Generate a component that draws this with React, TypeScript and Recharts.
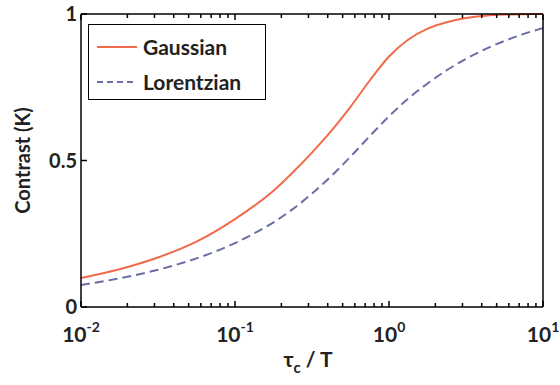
import { LineChart, Line, XAxis, YAxis, Legend } from 'recharts';

// tau_c / T sample points (log spaced) and contrast
const tauOverT = [0.01, 0.0178, 0.0316, 0.0562, 0.1, 0.133, 0.178, 0.237, 0.316, 0.422, 0.562, 0.75, 1, 1.33, 1.78, 2.37, 3.16, 4.22, 5.62, 7.5, 10];
const gaussian = [0.099, 0.129, 0.169, 0.223, 0.3, 0.345, 0.397, 0.459, 0.527, 0.601, 0.683, 0.773, 0.855, 0.912, 0.95, 0.972, 0.986, 0.994, 0.998, 0.9995, 1.0];
const lorentzian = [0.075, 0.098, 0.127, 0.166, 0.218, 0.251, 0.289, 0.334, 0.387, 0.447, 0.513, 0.583, 0.651, 0.711, 0.763, 0.808, 0.847, 0.88, 0.908, 0.932, 0.952];

const seriesNames = ['Gaussian', 'Lorentzian'];
const seriesColors = ['#f26a4c', '#6a6ea6'];

const majorTicks = [0.01, 0.1, 1, 10];
const minorTicks = [
  0.02, 0.03, 0.04, 0.05, 0.06, 0.07, 0.08, 0.09,
  0.2, 0.3, 0.4, 0.5, 0.6, 0.7, 0.8, 0.9,
  2, 3, 4, 5, 6, 7, 8, 9,
];
const xTicks = [...majorTicks, ...minorTicks].sort((a, b) => a - b);
const yTicks = [0, 0.5, 1];

const data = tauOverT.map((tau, i) => ({
  tau,
  gaussian: gaussian[i],
  lorentzian: lorentzian[i],
}));

const FONT = "Lato, 'Open Sans', sans-serif";
const TEXT = '#222';

const isMajor = (v: number) => majorTicks.some((m) => Math.abs(m - v) < 1e-9);

function BottomTick({ x, y, payload }: any) {
  const v = payload.value;
  const major = isMajor(v);
  const exp = Math.round(Math.log10(v));
  return (
    <g>
      <line x1={x} x2={x} y1={y} y2={y - (major ? 6 : 4)} stroke="#000" strokeWidth={1.5} />
      {major && (
        <text x={x} y={y + 35} textAnchor="middle" fontFamily={FONT} fontWeight={700} fontSize={21} fill={TEXT}>
          10<tspan dy={-10} fontSize={14}>{exp}</tspan>
        </text>
      )}
    </g>
  );
}

function TopTick({ x, y, payload }: any) {
  const major = isMajor(payload.value);
  return <line x1={x} x2={x} y1={y} y2={y + (major ? 6 : 4)} stroke="#000" strokeWidth={1.5} />;
}

function LeftTick({ x, y, payload }: any) {
  return (
    <g>
      <line x1={x} x2={x + 6} y1={y} y2={y} stroke="#000" strokeWidth={1.5} />
      <text x={x - 4} y={y} dy={7} textAnchor="end" fontFamily={FONT} fontWeight={700} fontSize={20} fill={TEXT}>
        {payload.value}
      </text>
    </g>
  );
}

function RightTick({ x, y }: any) {
  return <line x1={x} x2={x - 6} y1={y} y2={y} stroke="#000" strokeWidth={1.5} />;
}

function LegendBox() {
  const dashes = [undefined, '6 4'];
  return (
    <div
      style={{
        border: '1.5px solid #000',
        background: '#fff',
        width: 178,
        height: 76,
        boxSizing: 'border-box',
        padding: '4px 0 0 7px',
        fontFamily: FONT,
        fontWeight: 700,
        fontSize: 21,
        color: TEXT,
      }}
    >
      {seriesNames.map((name, i) => (
        <div key={name} style={{ display: 'flex', alignItems: 'center', height: 35 }}>
          <svg width={42} height={10} style={{ marginRight: 5 }}>
            <line x1={1} x2={41} y1={5} y2={5} stroke={seriesColors[i]} strokeWidth={1.8} strokeDasharray={dashes[i]} />
          </svg>
          <span>{name}</span>
        </div>
      ))}
    </div>
  );
}

export default function App() {
  return (
    <div style={{ position: 'absolute', left: 0, top: 0, background: '#fff' }}>
      <LineChart width={560} height={385} data={data} margin={{ top: 0, right: 0, bottom: 0, left: 0 }}>
        <XAxis
          dataKey="tau"
          type="number"
          scale="log"
          domain={[0.01, 10]}
          allowDataOverflow
          ticks={xTicks}
          interval={0}
          tickSize={0}
          tickMargin={0}
          height={78}
          tickLine={false}
          axisLine={{ stroke: '#000', strokeWidth: 1.5 }}
          tick={(p: any) => <BottomTick {...p} />}
          label={{
            content: ({ viewBox }: any) => (
              <text
                x={viewBox.x + viewBox.width / 2 - 4}
                y={viewBox.y + 60}
                textAnchor="middle"
                fontFamily={FONT}
                fontWeight={700}
                fontSize={21}
                fill={TEXT}
              >
                τ<tspan dy={6} fontSize={15}>c</tspan>
                <tspan dy={-6}> / T</tspan>
              </text>
            ),
          }}
        />
        <XAxis
          xAxisId="top"
          orientation="top"
          dataKey="tau"
          type="number"
          scale="log"
          domain={[0.01, 10]}
          allowDataOverflow
          ticks={xTicks}
          interval={0}
          tickSize={0}
          tickMargin={0}
          height={14}
          tickLine={false}
          axisLine={{ stroke: '#000', strokeWidth: 1.5 }}
          tick={(p: any) => <TopTick {...p} />}
        />
        <YAxis
          type="number"
          domain={[0, 1]}
          ticks={yTicks}
          interval={0}
          tickSize={0}
          tickMargin={0}
          width={81}
          tickLine={false}
          axisLine={{ stroke: '#000', strokeWidth: 1.5 }}
          tick={(p: any) => <LeftTick {...p} />}
          label={{
            content: ({ viewBox }: any) => (
              <text
                x={22}
                y={viewBox.y + viewBox.height / 2}
                transform={`rotate(-90, 22, ${viewBox.y + viewBox.height / 2})`}
                textAnchor="middle"
                dominantBaseline="central"
                fontFamily={FONT}
                fontWeight={700}
                fontSize={20}
                fill={TEXT}
              >
                Contrast (K)
              </text>
            ),
          }}
        />
        <YAxis
          yAxisId="right"
          orientation="right"
          type="number"
          domain={[0, 1]}
          ticks={yTicks}
          interval={0}
          tickSize={0}
          tickMargin={0}
          width={17}
          tickLine={false}
          axisLine={{ stroke: '#000', strokeWidth: 1.5 }}
          tick={(p: any) => <RightTick {...p} />}
        />
        <Legend
          layout="vertical"
          align="center"
          verticalAlign="middle"
          content={() => <LegendBox />}
          wrapperStyle={{ position: 'absolute', left: 88, top: 24, width: 178 }}
        />
        <Line
          type="monotone"
          dataKey="gaussian"
          name={seriesNames[0]}
          stroke={seriesColors[0]}
          strokeWidth={2}
          dot={false}
          isAnimationActive={false}
        />
        <Line
          type="monotone"
          dataKey="lorentzian"
          name={seriesNames[1]}
          stroke={seriesColors[1]}
          strokeWidth={2}
          strokeDasharray="9 5"
          dot={false}
          isAnimationActive={false}
        />
      </LineChart>
    </div>
  );
}
